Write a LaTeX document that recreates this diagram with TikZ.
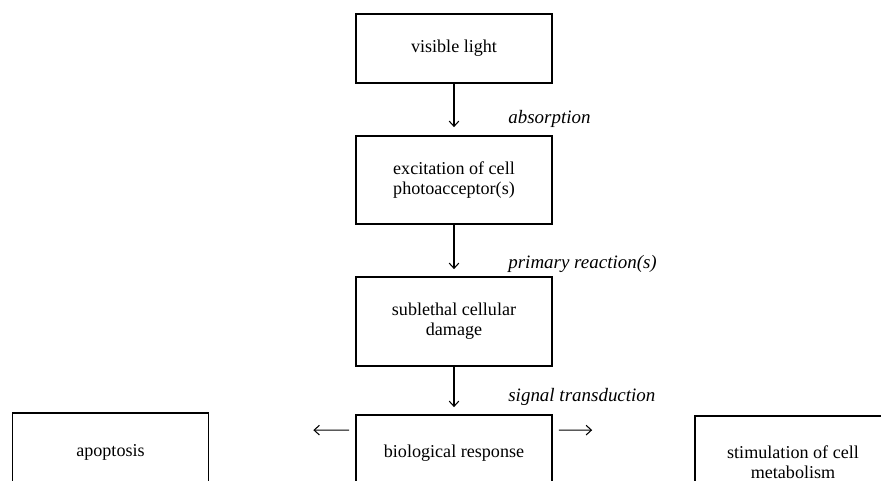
\documentclass[tikz,border=0pt]{standalone}
\usepackage{fontspec}
\setmainfont{Liberation Serif}
\usepackage{tikz}
\usetikzlibrary{arrows.meta}
\usetikzlibrary{positioning}
\tikzset{>={Straight Barb[length=3pt,width=5.5pt]}}
\tikzstyle{stage} = [rectangle, draw=black, line width=1pt, minimum width=3.92cm, align=center, font=\fontsize{10.3}{11.5}\selectfont]
\tikzstyle{flow} = [->, draw=black, line width=0.6pt]
\tikzstyle{step label} = [anchor=base west, inner sep=0pt, font=\fontsize{10.8}{12}\selectfont\itshape]

\begin{document}
\begin{tikzpicture}[x=0.02cm, y=-0.02cm]
\clip (0,0) rectangle (881,480);
\node [stage, minimum height=1.38cm] (light) at (454, 48.5) {visible light};
\node [stage, minimum height=1.76cm] (excite) at (454, 180) {excitation of cell\\photoacceptor(s)};
\node [stage, minimum height=1.78cm] (damage) at (454, 321.5) {sublethal cellular\\damage};
\node [stage, minimum height=1.52cm] (bio) at (454, 453) {biological response};
\node [stage, minimum height=1.56cm] (apop) at (110.5, 452) {apoptosis};
\node [stage, minimum height=1.84cm] (stim) at (793, 462) {stimulation of cell\\metabolism};
\draw [flow, shorten >=0.16cm] (light) to (excite);
\draw [flow, shorten >=0.14cm] (excite) to (damage);
\draw [flow, shorten >=0.14cm] (damage) to (bio);
\draw [flow, shorten <=0.12cm, shorten >=2.08cm] ([yshift=-0.32cm]bio.north west) to ([yshift=-0.36cm]apop.north east);
\draw [flow, shorten <=0.12cm, shorten >=2.04cm] ([yshift=-0.32cm]bio.north east) to ([yshift=-0.30cm]stim.north west);
\node [step label] (absorb) at (508, 123) {absorption};
\node [step label] (primary) at (508, 268) {primary reaction(s)};
\node [step label] (signal) at (508, 401) {signal transduction};
\end{tikzpicture}
\end{document}
